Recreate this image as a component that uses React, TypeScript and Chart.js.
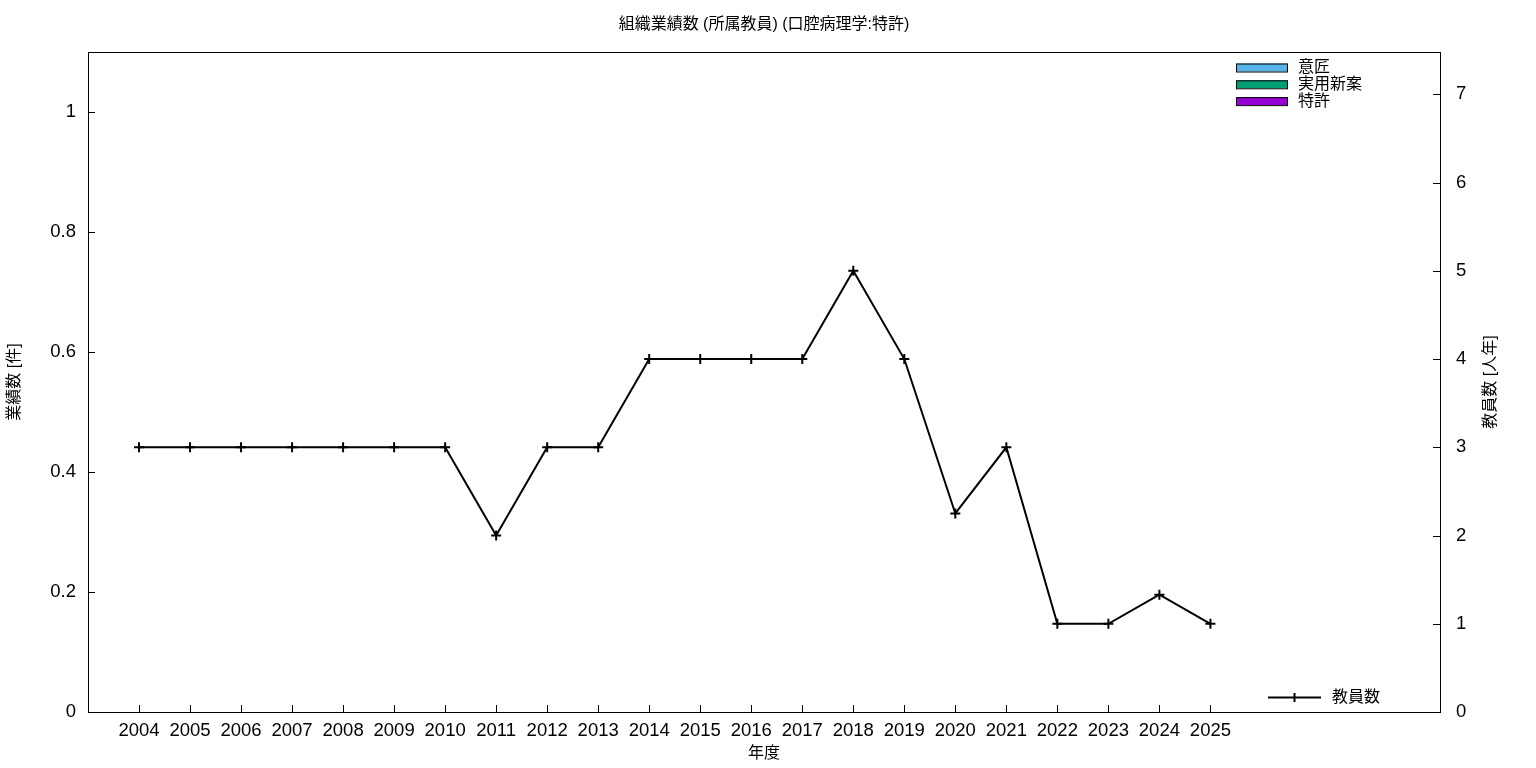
import React, { useEffect, useRef } from "react";
import { Chart, registerables } from "chart.js";

Chart.register(...registerables);

const years = [2004, 2005, 2006, 2007, 2008, 2009, 2010, 2011, 2012, 2013, 2014, 2015, 2016, 2017, 2018, 2019, 2020, 2021, 2022, 2023, 2024, 2025];
const designCounts = [0, 0, 0, 0, 0, 0, 0, 0, 0, 0, 0, 0, 0, 0, 0, 0, 0, 0, 0, 0, 0, 0];
const utilityCounts = [0, 0, 0, 0, 0, 0, 0, 0, 0, 0, 0, 0, 0, 0, 0, 0, 0, 0, 0, 0, 0, 0];
const patentCounts = [0, 0, 0, 0, 0, 0, 0, 0, 0, 0, 0, 0, 0, 0, 0, 0, 0, 0, 0, 0, 0, 0];
const facultyCounts = [3, 3, 3, 3, 3, 3, 3, 2, 3, 3, 4, 4, 4, 4, 5, 4, 2.25, 3, 1, 1, 1.33, 1];
const leftTicks = [0, 0.2, 0.4, 0.6, 0.8, 1];
const rightTicks = [0, 1, 2, 3, 4, 5, 6, 7];

const TITLE = "組織業績数 (所属教員) (口腔病理学:特許)";
const X_TITLE = "年度";
const Y_TITLE = "業績数 [件]";
const Y2_TITLE = "教員数 [人年]";

const FONT = '"Liberation Sans", "Noto Sans CJK JP", sans-serif';

const toXY = (vals: number[]) => vals.map((v, i) => ({ x: years[i], y: v }));

const decorPlugin = {
  id: "decor",
  afterDraw(chart: any) {
    const ctx = chart.ctx;
    const { left, right, top, bottom } = chart.chartArea;
    const sx = chart.scales.x;
    const sy = chart.scales.y;
    const sy2 = chart.scales.y2;
    ctx.save();
    ctx.strokeStyle = "#000";
    ctx.lineWidth = 1;
    ctx.strokeRect(left + 0.5, top + 0.5, right - left, bottom - top);
    const tl = 7;
    ctx.beginPath();
    years.forEach((yv) => {
      const px = Math.round(sx.getPixelForValue(yv)) + 0.5;
      ctx.moveTo(px, bottom);
      ctx.lineTo(px, bottom - tl);
    });
    leftTicks.forEach((v) => {
      const py = Math.round(sy.getPixelForValue(v)) + 0.5;
      ctx.moveTo(left, py);
      ctx.lineTo(left + tl, py);
    });
    rightTicks.forEach((v) => {
      const py = Math.round(sy2.getPixelForValue(v)) + 0.5;
      ctx.moveTo(right, py);
      ctx.lineTo(right - tl, py);
    });
    ctx.stroke();

    ctx.fillStyle = "#000";
    ctx.textAlign = "center";
    ctx.textBaseline = "middle";
    ctx.font = "16px " + FONT;
    const cx = (left + right) / 2;
    ctx.fillText(TITLE, cx, 25);
    ctx.fillText(X_TITLE, cx, 754);
    const cy = (top + bottom) / 2;
    ctx.save();
    ctx.translate(15, cy);
    ctx.rotate(-Math.PI / 2);
    ctx.fillText(Y_TITLE, 0, 0);
    ctx.restore();
    ctx.save();
    ctx.translate(1491, cy);
    ctx.rotate(-Math.PI / 2);
    ctx.fillText(Y2_TITLE, 0, 0);
    ctx.restore();

    // top-right legend (bar datasets)
    const bars = chart.data.datasets.filter((d: any) => d.type === "bar");
    ctx.textAlign = "left";
    bars.forEach((d: any, i: number) => {
      const yc = 67.5 + i * 16.8;
      ctx.fillStyle = d.backgroundColor;
      ctx.fillRect(1236, yc - 4, 52, 8);
      ctx.strokeStyle = "#000";
      ctx.lineWidth = 1;
      ctx.strokeRect(1236.5, yc - 4 + 0.5, 51, 8);
      ctx.fillStyle = "#000";
      ctx.fillText(d.label, 1298, yc);
    });

    // bottom-right legend (line dataset)
    const line = chart.data.datasets.find((d: any) => d.type === "line");
    const ly = 697.5;
    ctx.strokeStyle = "#000";
    ctx.lineWidth = 2;
    ctx.beginPath();
    ctx.moveTo(1268, ly);
    ctx.lineTo(1321, ly);
    ctx.moveTo(1294.5, ly - 4.5);
    ctx.lineTo(1294.5, ly + 4.5);
    ctx.stroke();
    ctx.fillStyle = "#000";
    ctx.fillText(line.label, 1332, ly);
    ctx.restore();
  },
};

export default function App() {
  const ref = useRef<HTMLCanvasElement | null>(null);
  useEffect(() => {
    if (!ref.current) return;
    const chart = new Chart(ref.current, {
      type: "line",
      data: {
        datasets: [
          { type: "bar", label: "意匠", data: toXY(designCounts), backgroundColor: "#56b4e9", borderWidth: 0, yAxisID: "y" },
          { type: "bar", label: "実用新案", data: toXY(utilityCounts), backgroundColor: "#009e73", borderWidth: 0, yAxisID: "y" },
          { type: "bar", label: "特許", data: toXY(patentCounts), backgroundColor: "#9400d3", borderWidth: 0, yAxisID: "y" },
          {
            type: "line",
            label: "教員数",
            data: toXY(facultyCounts),
            borderColor: "#000",
            backgroundColor: "#000",
            borderWidth: 2,
            pointStyle: "cross",
            pointRadius: 5,
            pointBorderWidth: 2,
            pointBorderColor: "#000",
            tension: 0,
            yAxisID: "y2",
          } as any,
        ],
      } as any,
      options: {
        responsive: false,
        animation: false,
        layout: { padding: { top: 52, left: 0, right: 0, bottom: 0 } },
        plugins: { legend: { display: false }, title: { display: false }, tooltip: { enabled: false } },
        scales: {
          x: {
            type: "linear",
            min: 2003,
            max: 2029.5,
            offset: false,
            grid: { display: false, drawTicks: false },
            border: { display: false },
            afterBuildTicks: (s: any) => {
              s.ticks = years.map((v) => ({ value: v }));
            },
            afterFit: (s: any) => {
              s.height = 56;
            },
            ticks: {
              autoSkip: false,
              maxRotation: 0,
              padding: 8,
              color: "#000",
              font: { family: FONT, size: 18.5 },
              callback: (v: any) => String(v),
            },
          },
          y: {
            type: "linear",
            position: "left",
            min: 0,
            max: 1.1,
            grid: { display: false, drawTicks: false },
            border: { display: false },
            afterBuildTicks: (s: any) => {
              s.ticks = leftTicks.map((v) => ({ value: v }));
            },
            afterFit: (s: any) => {
              s.width = 88;
            },
            ticks: {
              padding: 12,
              color: "#000",
              font: { family: FONT, size: 18.5 },
              callback: (v: any) => String(v),
            },
          },
          y2: {
            type: "linear",
            position: "right",
            min: 0,
            max: 7.48,
            grid: { display: false, drawTicks: false },
            border: { display: false },
            afterBuildTicks: (s: any) => {
              s.ticks = rightTicks.map((v) => ({ value: v }));
            },
            afterFit: (s: any) => {
              s.width = 96;
            },
            ticks: {
              padding: 16,
              color: "#000",
              font: { family: FONT, size: 18.5 },
              callback: (v: any) => String(v),
            },
          },
        },
      } as any,
      plugins: [decorPlugin],
    });
    return () => chart.destroy();
  }, []);
  return (
    <div style={{ position: "absolute", left: 0, top: 0, width: 1536, height: 768, background: "#fff" }}>
      <canvas ref={ref} width={1536} height={768} style={{ width: 1536, height: 768, display: "block" }} />
    </div>
  );
}
